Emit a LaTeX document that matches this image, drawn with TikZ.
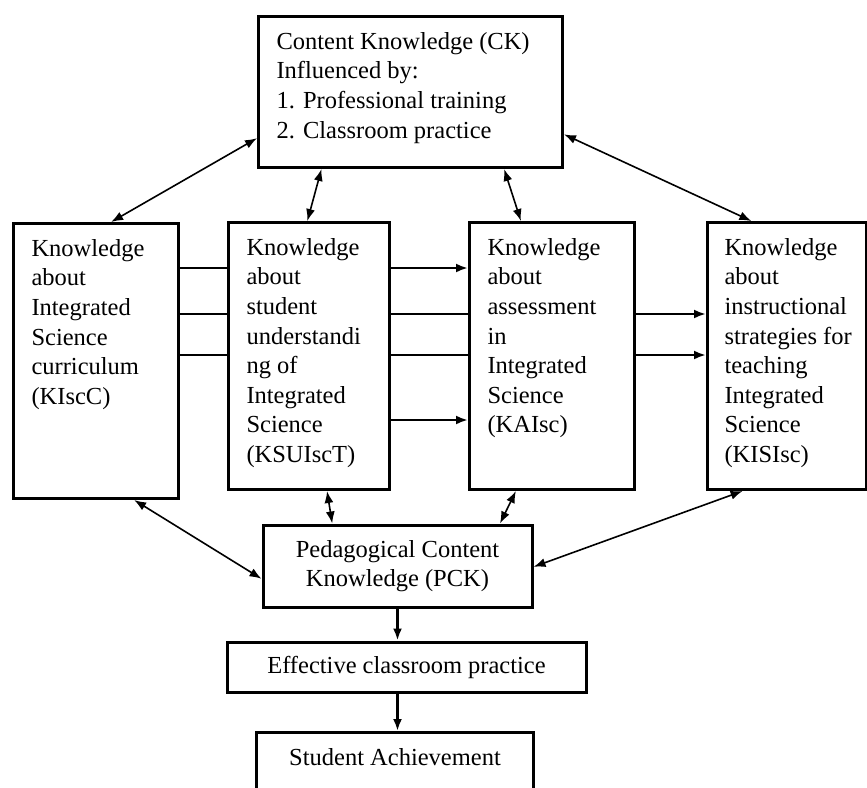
\documentclass[tikz,border=0pt]{standalone}
\usepackage{fontspec}
\setmainfont{Liberation Serif}
\usetikzlibrary{arrows.meta,calc}

\newcommand{\kbody}[3]{\parbox[c][#2][t]{#1}{\strut #3}}

\begin{document}
\begin{tikzpicture}[x=1pt,y=-1pt,
    font=\fontsize{24.5}{29.6}\selectfont,
    kbox/.style={draw,line width=3pt,inner xsep=18pt,inner ysep=12pt,anchor=north west},
    cbox/.style={draw,line width=3pt,align=center,inner sep=0pt},
    both/.style={line width=1.6pt,{Latex[length=12pt,width=9pt]}-{Latex[length=12pt,width=9pt]}},
    flow/.style={line width=2.6pt,-{Latex[length=12pt,width=9pt]}},
    rail/.style={line width=2.6pt}]
        \useasboundingbox (0,0) rectangle (867,787);
        \clip (0,0) rectangle (867,787);

        \node[kbox] (ck) at (257,15) {\kbody{268pt}{127pt}{Content Knowledge (CK)\\Influenced by:\\1. Professional training\\2. Classroom practice}};
        \node[kbox] (kiscc) at (12,222) {\kbody{129pt}{251pt}{Knowledge\\about\\Integrated\\Science\\curriculum\\(KIscC)}};
        \node[kbox] (ksuisct) at (227,221) {\kbody{125pt}{243pt}{Knowledge\\about\\student\\understandi\\ng of\\Integrated\\Science\\(KSUIscT)}};
        \node[kbox] (kaisc) at (468,221) {\kbody{129pt}{243pt}{Knowledge\\about\\assessment\\in\\Integrated\\Science\\(KAIsc)}};
        \node[kbox,inner xsep=17pt] (kisisc) at (706,221) {\kbody{125pt}{243pt}{Knowledge\\about\\instructional\\\mbox{strategies for}\\teaching\\Integrated\\Science\\(KISIsc)}};
        \node[cbox,minimum width=269pt,minimum height=82pt] (pck) at (397.5,566) {Pedagogical Content\\Knowledge (PCK)};
        \node[cbox,minimum width=359pt,minimum height=50pt] (ecp) at (406.5,667) {Effective classroom practice};
        \node[kbox] (sa) at (255,731) {\kbody{241pt}{90pt}{\centering Student Achievement}};

        \coordinate (r1) at (0,268);
        \coordinate (r2) at (0,314);
        \coordinate (r3) at (0,355);
        \coordinate (r4) at (0,420);
        \foreach \r in {r1,r2,r3}
          \draw[rail] (kiscc.east |- \r) -- (ksuisct.west |- \r);
        \draw[flow] (ksuisct.east |- r1) -- (kaisc.west |- r1);
        \draw[rail] (ksuisct.east |- r2) -- (kaisc.west |- r2);
        \draw[rail] (ksuisct.east |- r3) -- (kaisc.west |- r3);
        \draw[flow] (ksuisct.east |- r4) -- (kaisc.west |- r4);
        \draw[flow] (kaisc.east |- r2) -- (kisisc.west |- r2);
        \draw[flow] (kaisc.east |- r3) -- (kisisc.west |- r3);

        \draw[both] ($(ck.north west)!0.8!(ck.south west)$) -- ($(kiscc.north west)!0.59!(kiscc.north east)$);
        \draw[both] ($(ck.south west)!0.21!(ck.south east)$) -- ($(ksuisct.north west)!0.49!(ksuisct.north east)$);
        \draw[both] ($(ck.south west)!0.805!(ck.south east)$) -- ($(kaisc.north west)!0.315!(kaisc.north east)$);
        \draw[both] ($(ck.north east)!0.775!(ck.south east)$) -- ($(kisisc.north west)!0.28!(kisisc.north east)$);

        \draw[both] ($(kiscc.south west)!0.727!(kiscc.south east)$) -- ($(pck.north west)!0.65!(pck.south west)$);
        \draw[both] ($(ksuisct.south west)!0.61!(ksuisct.south east)$) -- ($(pck.north west)!0.26!(pck.north east)$);
        \draw[both] ($(kaisc.south west)!0.285!(kaisc.south east)$) -- ($(pck.north west)!0.877!(pck.north east)$);
        \draw[both] ($(kisisc.south west)!0.226!(kisisc.south east)$) -- ($(pck.north east)!0.51!(pck.south east)$);

        \draw[flow] (pck.south) -- (pck.south |- ecp.north);
        \draw[flow] (pck.south |- ecp.south) -- (pck.south |- sa.north);
      \end{tikzpicture}
\end{document}
